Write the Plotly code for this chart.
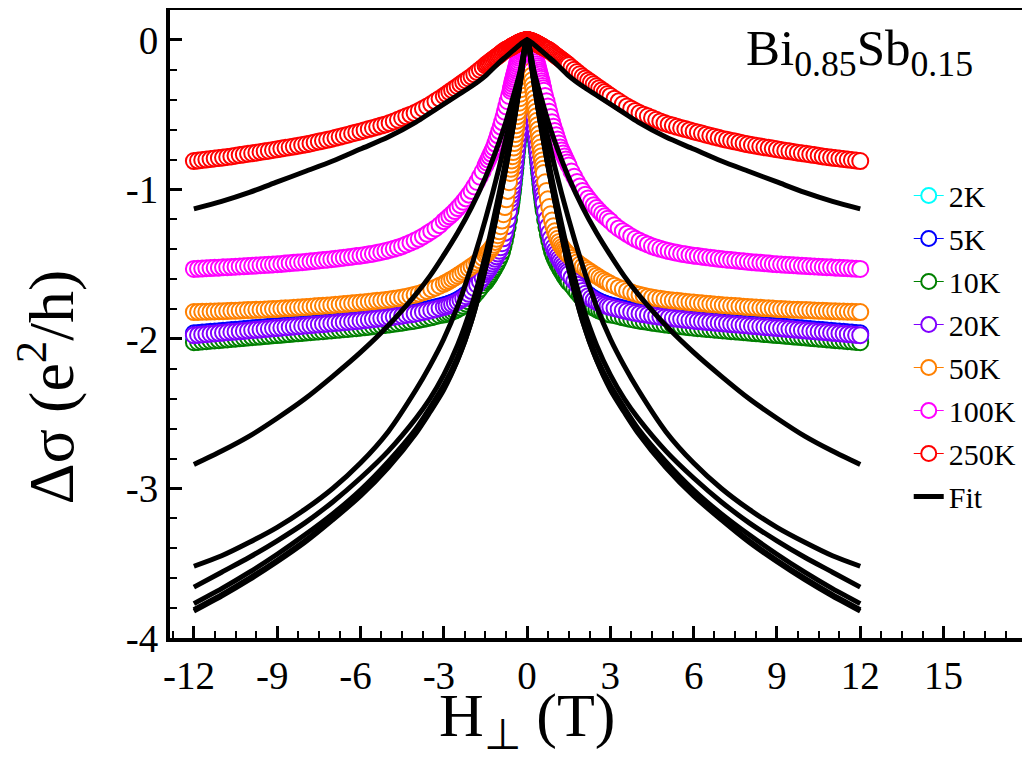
import plotly.graph_objects as go

H_HALF = [0.00, 0.02, 0.04, 0.06, 0.08, 0.10, 0.12, 0.14, 0.16, 0.18, 0.20, 0.22, 0.24, 0.26, 0.28, 0.30,
          0.32, 0.34, 0.36, 0.38, 0.40, 0.42, 0.44, 0.46, 0.48, 0.50, 0.52, 0.54, 0.56, 0.58, 0.60,
          0.65, 0.70, 0.75, 0.80, 0.85, 0.90, 0.95, 1.00, 1.05, 1.10, 1.15, 1.20, 1.25, 1.30, 1.35, 1.40, 1.45, 1.50,
          1.6, 1.7, 1.8, 1.9, 2.0, 2.1, 2.2, 2.3, 2.4, 2.5, 2.6, 2.7, 2.8, 2.9, 3.0,
          3.15, 3.30, 3.45, 3.60, 3.75, 3.90, 4.05, 4.20, 4.35, 4.50, 4.65, 4.80, 4.95, 5.10, 5.25, 5.40,
          5.55, 5.70, 5.85, 6.00, 6.15, 6.30, 6.45, 6.60, 6.75, 6.90, 7.05, 7.20, 7.35, 7.50, 7.65, 7.80,
          7.95, 8.10, 8.25, 8.40, 8.55, 8.70, 8.85, 9.00, 9.15, 9.30, 9.45, 9.60, 9.75, 9.90, 10.05, 10.20,
          10.35, 10.50, 10.65, 10.80, 10.95, 11.10, 11.25, 11.40, 11.55, 11.70, 11.85, 12.00]

DS_2K = [0, -0.024, -0.068, -0.120, -0.168, -0.214, -0.256, -0.298, -0.340, -0.382, -0.424, -0.466, -0.508, -0.550, -0.592, -0.634,
         -0.673, -0.711, -0.749, -0.786, -0.822, -0.857, -0.891, -0.925, -0.959, -0.992, -1.020, -1.048, -1.075, -1.101, -1.128,
         -1.178, -1.230, -1.277, -1.320, -1.357, -1.390, -1.417, -1.440, -1.459, -1.477, -1.494, -1.510, -1.526, -1.541, -1.556, -1.570, -1.583, -1.596,
         -1.615, -1.639, -1.662, -1.684, -1.705, -1.723, -1.739, -1.753, -1.765, -1.776, -1.785, -1.793, -1.800, -1.806, -1.812,
         -1.819, -1.826, -1.833, -1.839, -1.845, -1.851, -1.856, -1.860, -1.864, -1.869, -1.873, -1.877, -1.881, -1.884, -1.887, -1.890,
         -1.893, -1.897, -1.900, -1.903, -1.906, -1.908, -1.911, -1.913, -1.916, -1.918, -1.921, -1.923, -1.926, -1.928, -1.930, -1.933,
         -1.935, -1.938, -1.940, -1.942, -1.945, -1.947, -1.950, -1.952, -1.954, -1.957, -1.959, -1.962, -1.964, -1.966, -1.969, -1.971,
         -1.974, -1.976, -1.978, -1.981, -1.983, -1.986, -1.988, -1.990, -1.993, -1.995, -1.998, -2.000]
DS_5K = [0, -0.020, -0.060, -0.110, -0.155, -0.200, -0.240, -0.280, -0.320, -0.360, -0.400, -0.440, -0.480, -0.520, -0.560, -0.600,
         -0.637, -0.673, -0.709, -0.745, -0.780, -0.815, -0.849, -0.883, -0.917, -0.950, -0.979, -1.007, -1.035, -1.062, -1.090,
         -1.140, -1.192, -1.239, -1.282, -1.319, -1.352, -1.379, -1.402, -1.421, -1.439, -1.456, -1.472, -1.488, -1.503, -1.518, -1.531, -1.544, -1.556,
         -1.578, -1.602, -1.625, -1.647, -1.668, -1.686, -1.702, -1.716, -1.728, -1.739, -1.748, -1.756, -1.763, -1.769, -1.775,
         -1.781, -1.788, -1.795, -1.801, -1.807, -1.813, -1.818, -1.822, -1.826, -1.831, -1.835, -1.839, -1.843, -1.846, -1.849, -1.852,
         -1.855, -1.859, -1.862, -1.865, -1.868, -1.870, -1.873, -1.875, -1.878, -1.880, -1.883, -1.885, -1.888, -1.890, -1.892, -1.895,
         -1.897, -1.900, -1.902, -1.904, -1.907, -1.909, -1.912, -1.914, -1.916, -1.919, -1.921, -1.924, -1.926, -1.928, -1.931, -1.933,
         -1.936, -1.938, -1.940, -1.943, -1.945, -1.948, -1.950, -1.952, -1.955, -1.957, -1.960, -1.962]
DS_10K = [0, -0.021, -0.063, -0.116, -0.163, -0.210, -0.252, -0.294, -0.336, -0.378, -0.420, -0.462, -0.504, -0.546, -0.588, -0.630,
          -0.669, -0.707, -0.744, -0.782, -0.819, -0.856, -0.891, -0.927, -0.963, -0.998, -1.028, -1.057, -1.087, -1.115, -1.145,
          -1.203, -1.255, -1.302, -1.345, -1.382, -1.415, -1.442, -1.465, -1.484, -1.502, -1.519, -1.535, -1.551, -1.566, -1.581, -1.595, -1.608, -1.621,
          -1.640, -1.664, -1.687, -1.709, -1.730, -1.748, -1.764, -1.778, -1.790, -1.801, -1.810, -1.818, -1.825, -1.831, -1.837,
          -1.841, -1.848, -1.855, -1.861, -1.867, -1.873, -1.878, -1.882, -1.886, -1.891, -1.895, -1.899, -1.903, -1.906, -1.909, -1.912,
          -1.915, -1.919, -1.922, -1.925, -1.928, -1.930, -1.933, -1.935, -1.938, -1.940, -1.943, -1.945, -1.948, -1.950, -1.952, -1.955,
          -1.957, -1.960, -1.962, -1.964, -1.967, -1.969, -1.972, -1.974, -1.976, -1.979, -1.981, -1.984, -1.986, -1.988, -1.991, -1.993,
          -1.996, -1.998, -2.000, -2.003, -2.005, -2.008, -2.010, -2.012, -2.015, -2.017, -2.020, -2.022]
DS_20K = [0, -0.020, -0.060, -0.110, -0.155, -0.200, -0.240, -0.280, -0.320, -0.360, -0.400, -0.440, -0.480, -0.520, -0.560, -0.600,
          -0.637, -0.673, -0.709, -0.745, -0.780, -0.815, -0.849, -0.883, -0.917, -0.950, -0.979, -1.007, -1.035, -1.062, -1.090,
          -1.148, -1.200, -1.247, -1.290, -1.327, -1.360, -1.387, -1.410, -1.429, -1.447, -1.464, -1.480, -1.496, -1.511, -1.526, -1.540, -1.553, -1.566,
          -1.590, -1.614, -1.637, -1.659, -1.680, -1.698, -1.714, -1.728, -1.740, -1.751, -1.760, -1.768, -1.775, -1.781, -1.787,
          -1.794, -1.801, -1.808, -1.814, -1.820, -1.826, -1.831, -1.835, -1.839, -1.844, -1.848, -1.852, -1.856, -1.859, -1.862, -1.865,
          -1.868, -1.872, -1.875, -1.878, -1.881, -1.883, -1.886, -1.888, -1.891, -1.893, -1.896, -1.898, -1.901, -1.903, -1.905, -1.908,
          -1.910, -1.913, -1.915, -1.917, -1.920, -1.922, -1.925, -1.927, -1.929, -1.932, -1.934, -1.937, -1.939, -1.941, -1.944, -1.946,
          -1.949, -1.951, -1.953, -1.956, -1.958, -1.961, -1.963, -1.965, -1.968, -1.970, -1.973, -1.975]
DS_50K = [0, -0.012, -0.040, -0.078, -0.114, -0.150, -0.180, -0.210, -0.240, -0.270, -0.300, -0.330, -0.360, -0.390, -0.420, -0.450,
          -0.480, -0.510, -0.540, -0.570, -0.600, -0.630, -0.660, -0.690, -0.720, -0.750, -0.778, -0.806, -0.834, -0.862, -0.890,
          -0.952, -1.010, -1.066, -1.118, -1.166, -1.208, -1.246, -1.280, -1.306, -1.330, -1.351, -1.370, -1.385, -1.398, -1.410, -1.420, -1.430, -1.440,
          -1.458, -1.474, -1.489, -1.502, -1.515, -1.528, -1.541, -1.553, -1.565, -1.577, -1.589, -1.600, -1.611, -1.621, -1.631,
          -1.644, -1.657, -1.668, -1.679, -1.688, -1.697, -1.705, -1.711, -1.717, -1.722, -1.727, -1.731, -1.736, -1.739, -1.742, -1.745,
          -1.748, -1.751, -1.754, -1.757, -1.759, -1.762, -1.764, -1.767, -1.769, -1.771, -1.774, -1.776, -1.778, -1.780, -1.782, -1.784,
          -1.786, -1.788, -1.790, -1.792, -1.794, -1.795, -1.797, -1.799, -1.800, -1.801, -1.803, -1.804, -1.805, -1.806, -1.807, -1.808,
          -1.810, -1.811, -1.812, -1.813, -1.814, -1.815, -1.816, -1.817, -1.818, -1.818, -1.819, -1.820]
DS_100K = [0, -0.001, -0.003, -0.006, -0.012, -0.020, -0.027, -0.035, -0.043, -0.051, -0.060, -0.071, -0.082, -0.094, -0.107, -0.120,
           -0.134, -0.148, -0.162, -0.176, -0.190, -0.204, -0.218, -0.232, -0.246, -0.260, -0.276, -0.292, -0.308, -0.324, -0.340,
           -0.375, -0.410, -0.445, -0.480, -0.515, -0.550, -0.580, -0.610, -0.638, -0.666, -0.693, -0.720, -0.740, -0.760, -0.780, -0.800, -0.820, -0.840,
           -0.880, -0.915, -0.950, -0.980, -1.010, -1.035, -1.060, -1.083, -1.105, -1.125, -1.145, -1.163, -1.180, -1.196, -1.212,
           -1.239, -1.261, -1.279, -1.297, -1.314, -1.330, -1.344, -1.356, -1.368, -1.380, -1.389, -1.397, -1.405, -1.412, -1.418, -1.424,
           -1.430, -1.434, -1.439, -1.443, -1.446, -1.450, -1.453, -1.457, -1.460, -1.464, -1.467, -1.470, -1.472, -1.475, -1.478, -1.481,
           -1.484, -1.487, -1.489, -1.491, -1.493, -1.496, -1.498, -1.500, -1.502, -1.504, -1.505, -1.507, -1.509, -1.511, -1.512, -1.514,
           -1.515, -1.517, -1.518, -1.520, -1.521, -1.523, -1.524, -1.526, -1.527, -1.529, -1.530, -1.532]
DS_250K = [0, -0.001, -0.002, -0.003, -0.004, -0.005, -0.006, -0.007, -0.008, -0.009, -0.011, -0.012, -0.014, -0.015, -0.017, -0.019,
           -0.021, -0.023, -0.025, -0.027, -0.029, -0.031, -0.033, -0.035, -0.037, -0.040, -0.042, -0.044, -0.046, -0.048, -0.050,
           -0.055, -0.060, -0.065, -0.070, -0.077, -0.084, -0.092, -0.100, -0.106, -0.113, -0.120, -0.127, -0.134, -0.141, -0.148, -0.155, -0.162, -0.170,
           -0.185, -0.200, -0.215, -0.230, -0.245, -0.258, -0.271, -0.284, -0.297, -0.310, -0.323, -0.336, -0.349, -0.362, -0.375,
           -0.393, -0.411, -0.429, -0.445, -0.460, -0.475, -0.489, -0.500, -0.511, -0.522, -0.534, -0.545, -0.556, -0.565, -0.573, -0.581,
           -0.589, -0.596, -0.604, -0.612, -0.619, -0.626, -0.634, -0.641, -0.648, -0.655, -0.662, -0.668, -0.674, -0.680, -0.686, -0.692,
           -0.698, -0.703, -0.708, -0.713, -0.718, -0.722, -0.727, -0.732, -0.736, -0.741, -0.745, -0.749, -0.754, -0.758, -0.762, -0.766,
           -0.770, -0.774, -0.779, -0.783, -0.787, -0.790, -0.793, -0.797, -0.800, -0.803, -0.807, -0.810]

# ---- fit curves (positive half) ----
H_FIT = [0, 0.25, 0.5, 0.75, 1, 1.5, 2, 2.5, 3, 3.5, 4, 5, 6, 7, 8, 9, 10, 11, 12]
FIT_2K = [0, -0.29, -0.58, -0.84, -1.08, -1.53, -1.88, -2.14, -2.34, -2.49, -2.63, -2.86, -3.05, -3.21, -3.36, -3.49, -3.61, -3.72, -3.82]
FIT_5K = [0, -0.29, -0.58, -0.84, -1.08, -1.52, -1.88, -2.14, -2.33, -2.48, -2.62, -2.85, -3.04, -3.20, -3.35, -3.48, -3.60, -3.71, -3.81]
FIT_10K = [0, -0.29, -0.57, -0.83, -1.07, -1.51, -1.86, -2.12, -2.31, -2.46, -2.60, -2.82, -3.01, -3.17, -3.31, -3.44, -3.56, -3.67, -3.77]
FIT_20K = [0, -0.27, -0.54, -0.79, -1.02, -1.44, -1.78, -2.04, -2.24, -2.40, -2.53, -2.75, -2.93, -3.09, -3.23, -3.35, -3.46, -3.56, -3.66]
FIT_50K = [0, -0.22, -0.44, -0.65, -0.85, -1.20, -1.51, -1.78, -2.00, -2.18, -2.34, -2.62, -2.83, -3.00, -3.14, -3.26, -3.36, -3.45, -3.52]
FIT_100K = [0, -0.21, -0.38, -0.54, -0.68, -0.92, -1.12, -1.29, -1.44, -1.58, -1.70, -1.91, -2.09, -2.25, -2.40, -2.53, -2.65, -2.75, -2.84]
FIT_250K = [0, -0.03, -0.07, -0.11, -0.15, -0.24, -0.31, -0.37, -0.43, -0.49, -0.55, -0.65, -0.73, -0.81, -0.88, -0.95, -1.02, -1.08, -1.13]

SERIES_NAMES = ["2K", "5K", "10K", "20K", "50K", "100K", "250K"]
SERIES_COLORS = ["#00FFFF", "#0000FF", "#008000", "#8000FF", "#FF8000", "#FF00FF", "#FF0000"]
DATA = [DS_2K, DS_5K, DS_10K, DS_20K, DS_50K, DS_100K, DS_250K]
FITS = [FIT_2K, FIT_5K, FIT_10K, FIT_20K, FIT_50K, FIT_100K, FIT_250K]

X_TICKS = [-12, -9, -6, -3, 0, 3, 6, 9, 12, 15]
X_TICKTEXT = ["-12\u00a0", "-9\u00a0", "-6\u00a0", "-3\u00a0", "0", "3", "6", "9", "12", "15"]
Y_TICKS = [0, -1, -2, -3, -4]
Y_TICKTEXT = ["0", "-1", "-2", "-3", "-4"]

for d in DATA:
    assert len(d) == len(H_HALF), (len(d), len(H_HALF))
for f in FITS:
    assert len(f) == len(H_FIT)


def mirror(h, v):
    x = [-a for a in reversed(h[1:])] + list(h)
    y = list(reversed(v[1:])) + list(v)
    return x, y


FONT = "Liberation Serif"
fig = go.Figure()

# measured data: white-filled circles with coloured rims, drawn from -12 T to +12 T
for name, col, vals in zip(SERIES_NAMES, SERIES_COLORS, DATA):
    x, y = mirror(H_HALF, vals)
    fig.add_trace(go.Scatter(
        x=x, y=y, mode="markers", showlegend=False, hoverinfo="skip",
        marker=dict(symbol="circle", size=16, color="white",
                    line=dict(color=col, width=2)),
    ))

# fits: thick black lines on top
for vals in FITS:
    x, y = mirror(H_FIT, vals)
    fig.add_trace(go.Scatter(
        x=x, y=y, mode="lines", showlegend=False, hoverinfo="skip",
        line=dict(color="black", width=5, shape="spline", smoothing=0.8),
    ))

# legend entries
for name, col in zip(SERIES_NAMES, SERIES_COLORS):
    fig.add_trace(go.Scatter(
        x=[None], y=[None], mode="lines+markers", name=name, legendgroup=name,
        line=dict(color=col, width=1.2),
        marker=dict(symbol="circle", size=15, color="white", line=dict(color=col, width=2)),
    ))
fig.add_trace(go.Scatter(x=[None], y=[None], mode="lines", name="Fit", legendgroup="Fit",
                         line=dict(color="black", width=5)))

axis_common = dict(
    showline=True, linecolor="black", linewidth=4, mirror=True,
    ticks="inside", ticklen=12, tickwidth=3, tickcolor="black",
    showgrid=False, zeroline=False, automargin=False,
    tickfont=dict(family=FONT, size=39, color="black"),
)

# the page body adds an 8 px offset, so the figure is 8 px smaller than the window
fig.update_layout(
    width=1022, height=752,
    margin=dict(l=162, r=4, t=2, b=122),
    paper_bgcolor="white", plot_bgcolor="white",
    font=dict(family=FONT, color="black"),
    xaxis=dict(range=[-12.86, 17.97], tickmode="array", tickvals=X_TICKS, ticktext=X_TICKTEXT,
               minor=dict(tickmode="linear", tick0=0, dtick=0.75, ticklen=7, tickwidth=2,
                          tickcolor="black", ticks="inside"),
               **axis_common),
    yaxis=dict(range=[-4, 0.2], tickmode="array", tickvals=Y_TICKS, ticktext=Y_TICKTEXT,
               minor=dict(tickmode="linear", tick0=0, dtick=0.2, ticklen=7, tickwidth=2,
                          tickcolor="black", ticks="inside"),
               **axis_common),
    showlegend=True,
    legend=dict(x=0.863, y=0.746, xanchor="left", yanchor="top",
                bgcolor="rgba(0,0,0,0)", borderwidth=0,
                font=dict(family=FONT, size=30, color="black"),
                traceorder="grouped", tracegroupgap=1),
    annotations=[
        dict(text="Bi<sub>0.85</sub>Sb<sub>0.15</sub>", xref="paper", yref="paper",
             x=0.670, y=0.988, xanchor="left", yanchor="top", showarrow=False,
             font=dict(family=FONT, size=51, color="black")),
        dict(text="H<sub>⊥</sub> (T)", xref="x", yref="paper",
             x=0, y=-0.129, xanchor="center", yanchor="middle", showarrow=False,
             font=dict(family=FONT, size=62, color="black")),
        dict(text="Δσ (e<sup>2</sup>/h)", xref="paper", yref="paper", textangle=-90,
             x=-0.144, y=0.40, xanchor="center", yanchor="middle", showarrow=False,
             font=dict(family=FONT, size=64, color="black")),
    ],
)

fig.write_html("out.html")
